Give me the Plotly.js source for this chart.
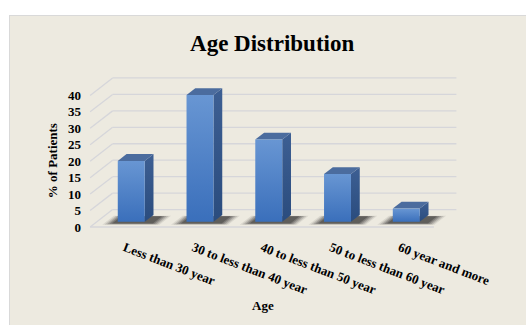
<!DOCTYPE html>
<html>
<head>
<meta charset="utf-8">
<script src="https://cdn.plot.ly/plotly-3.0.1.min.js"></script>
<style>
  html, body { margin: 0; padding: 0; background: #ffffff; width: 526px; height: 325px; overflow: hidden; }
  #chart { position: absolute; left: 9px; top: 15px; width: 517px; height: 310px;
           border-top: 1px solid #d9d9d9; border-left: 1px solid #d9d9d9; box-sizing: border-box; }
</style>
</head>
<body>
<div id="chart"></div>
<script>
// ---- data ----
const categories = ["Less than 30 year", "30 to less than 40 year", "40 to less than 50 year", "50 to less than 60 year", "60 year and more"];
const values = [18.5, 38.5, 25, 14.5, 4];
const yTicks = [0, 5, 10, 15, 20, 25, 30, 35, 40];
const chartTitle = "Age Distribution";
const xTitle = "Age";
const yTitle = "% of Patients";

// ---- pseudo-3D geometry (in axis units) ----
const DX = 0.327;   // x shift for full depth
const DY = 5.3;     // value shift for full depth
const D1 = 0.30, D2 = 0.69; // bar front/back depth
const HW = 0.196;   // half bar width
function P(x, v, d) { return [x + DX * d, v + DY * d]; }

const traces = [];
function poly(pts, fill, extra) {
  const t = {
    type: 'scatter', mode: 'lines', hoverinfo: 'skip', showlegend: false,
    x: pts.map(p => p[0]).concat([pts[0][0]]),
    y: pts.map(p => p[1]).concat([pts[0][1]]),
    fill: 'toself', fillcolor: fill, line: { width: 0 }
  };
  return Object.assign(t, extra || {});
}
function seg(a, b, color, w) {
  return { type: 'scatter', mode: 'lines', hoverinfo: 'skip', showlegend: false,
    x: [a[0], b[0]], y: [a[1], b[1]], line: { color: color, width: w } };
}

const gridColor = '#d6d6da';
const x0 = -0.5, x1 = categories.length - 0.5;
// back wall gridlines and left wall diagonals
yTicks.forEach(v => {
  traces.push(seg(P(x0, v, 1), P(x1, v, 1), gridColor, 1.3));
  traces.push(seg(P(x0, v, 0), P(x0, v, 1), gridColor, 1.3));
});
// floor front edge
traces.push(seg(P(x0, 0, 0), P(x1, 0, 0), gridColor, 1.3));

// shadows (layered to imitate blur)
values.forEach((v, i) => {
  for (let j = 4; j >= 0; j--) {
    const e = 0.03 * j;
    const pts = [
      P(i - HW - 0.05 - e, 0, D1 - 0.10 - e * 0.6),
      P(i + HW + 0.15 + e, 0, D1 - 0.10 - e * 0.6),
      P(i + HW + 0.15 + e, 0, D2 - 0.08 + e * 0.3),
      P(i - HW - 0.05 - e, 0, D2 - 0.08 + e * 0.3)
    ];
    traces.push(poly(pts, 'rgba(30,30,30,' + (0.09 + 0.055 * (4 - j)).toFixed(3) + ')'));
  }
});

// bars
values.forEach((v, i) => {
  const L = i - HW, R = i + HW;
  // right side face
  traces.push(poly([P(R, 0, D1), P(R, 0, D2), P(R, v, D2), P(R, v, D1)], '#34588c',
    { fillgradient: { type: 'vertical', colorscale: [[0, '#2a4c7e'], [1, '#3d5f93']] } }));
  // top face
  traces.push(poly([P(L, v, D1), P(R, v, D1), P(R, v, D2), P(L, v, D2)], '#4b6c9e'));
  // front face
  traces.push(poly([P(L, 0, D1), P(R, 0, D1), P(R, v, D1), P(L, v, D1)], '#4f82c8',
    { fillgradient: { type: 'vertical', colorscale: [[0, '#3a6fbb'], [1, '#6896d3']] } }));
});

const serif = 'Liberation Serif, Times New Roman, serif';
const layout = {
  width: 517, height: 310,
  margin: { l: 76, r: 46, t: 45, b: 89 },
  paper_bgcolor: '#edeae0', plot_bgcolor: 'rgba(0,0,0,0)',
  showlegend: false,
  title: { text: '<b>' + chartTitle + '</b>', font: { family: serif, size: 23, color: '#000' },
           xref: 'container', yref: 'container', x: 0.507, y: 0.913, xanchor: 'center', yanchor: 'middle' },
  xaxis: {
    range: [-0.56, 5.185], tickmode: 'array', tickvals: categories.map((c, i) => i),
    ticktext: categories.map(c => '<b>' + c + '</b>'), tickangle: 21,
    tickfont: { family: serif, size: 13, color: '#000' },
    showgrid: false, zeroline: false, showline: false, ticks: '', fixedrange: true
  },
  yaxis: {
    range: [-3.04, 50.46], tickmode: 'array', tickvals: yTicks,
    ticktext: yTicks.map(t => '<b>' + t + '</b>'),
    tickfont: { family: serif, size: 13, color: '#000' }, ticklabelstandoff: 4,
    showgrid: false, zeroline: false, showline: false, ticks: '', fixedrange: true
  },
  annotations: [
    { text: '<b>' + xTitle + '</b>', xref: 'paper', yref: 'paper', x: 0.448, y: -0.392,
      showarrow: false, font: { family: serif, size: 13, color: '#000' }, xanchor: 'center', yanchor: 'middle' },
    { text: '<b>' + yTitle + '</b>', xref: 'paper', yref: 'paper', x: -0.083, y: 0.432, textangle: -90,
      showarrow: false, font: { family: serif, size: 13, color: '#000' }, xanchor: 'center', yanchor: 'middle' }
  ]
};
Plotly.newPlot('chart', traces, layout, { displayModeBar: false, staticPlot: true });
</script>
</body>
</html>
